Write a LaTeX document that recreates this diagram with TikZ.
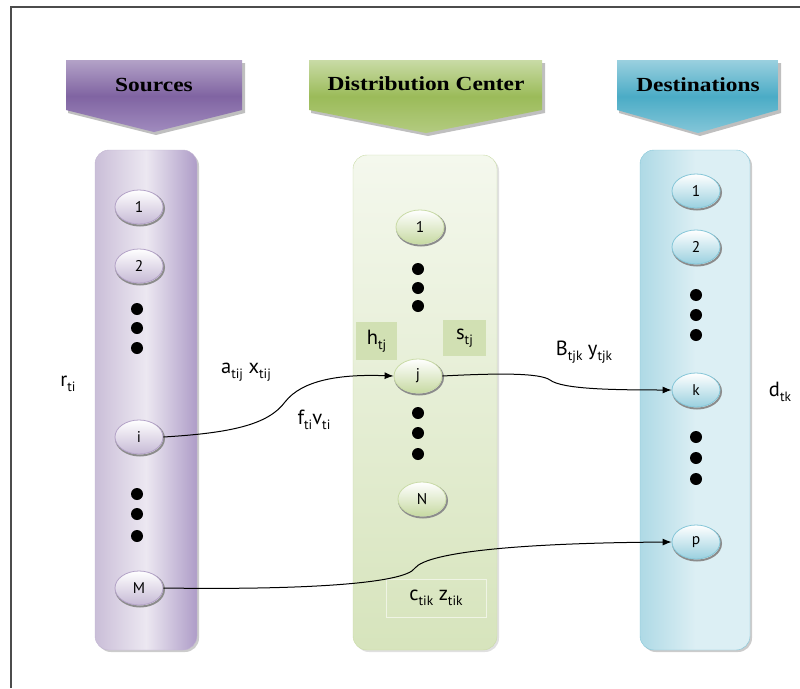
\documentclass[tikz,border=0pt]{standalone}
\usepackage{fontspec}
\setmainfont{Liberation Serif}
\newfontfamily\lblfont{PT Sans}
\usetikzlibrary{shapes.geometric,arrows.meta}
\newcommand\lsub[1]{\raisebox{-0.5ex}{\fontsize{13.5}{13.5}\selectfont #1}}
\definecolor{purpA}{HTML}{B3A2C7}
\definecolor{purpB}{HTML}{8064A2}
\definecolor{purpC}{HTML}{A08BBE}
\definecolor{grnA}{HTML}{C9DBA6}
\definecolor{grnB}{HTML}{9BBB59}
\definecolor{grnC}{HTML}{B3CB80}
\definecolor{bluA}{HTML}{9AD0DF}
\definecolor{bluB}{HTML}{4BACC6}
\definecolor{bluC}{HTML}{84C6D8}
\tikzset{
  headtxt/.style={font=\fontsize{20}{20}\selectfont\bfseries, xscale=1.17, inner sep=0pt},
  nshadow/.style={preaction={draw=black!45, line width=2pt, transform canvas={shift={(1pt,-1.5pt)}}}},
  pnode/.style={ellipse, minimum width=48pt, minimum height=34pt, inner sep=0pt, draw=purpA, line width=0.8pt, top color=white, bottom color=purpA!75, font=\lblfont\fontsize{15.5}{15.5}\selectfont, nshadow},
  gnode/.style={pnode, draw=grnA, bottom color=grnA!95!grnB},
  bnode/.style={pnode, draw=bluC, bottom color=bluA},
  bigdot/.style={circle, fill=black, minimum size=12pt, inner sep=0pt},
  lbl/.style={font=\lblfont\fontsize{20.5}{20.5}\selectfont, inner sep=1pt},
  arr/.style={-{Latex[length=9pt,width=7pt]}, line width=1pt, black}
}
\begin{document}
\begin{tikzpicture}[x=1pt,y=-1pt]
\useasboundingbox (0,0) rectangle (800,688);
\draw[line width=1.6pt, black!70] (11,688) -- (11,7) -- (800,7);

% headers
\fill[black!25] (68,63) -- (245,63) -- (245,113) -- (156,135) -- (68,113) -- cycle;
\shade[top color=purpA, bottom color=purpC, middle color=purpB] (66,60) -- (242,60) -- (242,110) -- (154,132) -- (66,110) -- cycle;
\node[headtxt] (hsrc) at (154,85) {Sources};
\fill[black!25] (311,63) -- (545,63) -- (545,113) -- (428,136) -- (311,113) -- cycle;
\shade[top color=grnA, bottom color=grnC, middle color=grnB] (309,60) -- (542,60) -- (542,110) -- (426,133) -- (309,110) -- cycle;
\node[headtxt] (hdc) at (426,84) {Distribution Center};
\fill[black!25] (619,63) -- (781,63) -- (781,113) -- (700,136) -- (619,113) -- cycle;
\shade[top color=bluA, bottom color=bluC, middle color=bluB] (617,60) -- (778,60) -- (778,110) -- (698,133) -- (617,110) -- cycle;
\node[headtxt] (hdst) at (698,85) {Destinations};

% columns
\fill[black!20, rounded corners=14pt] (97,152) rectangle (199,652);
\shade[left color=purpA!70!white, right color=purpC!85!white, middle color=purpA!25!white, rounded corners=14pt, draw=purpA!80] (95,150) rectangle (197,650);
\fill[black!12, rounded corners=14pt] (355,157) rectangle (499,652);
\shade[top color=grnA!20!white, bottom color=grnA!75!white, rounded corners=14pt, draw=grnA] (353,155) rectangle (497,650);
\fill[black!20, rounded corners=14pt] (642,152) rectangle (752,652);
\shade[left color=bluA!80!white, right color=bluA!35!white, middle color=bluA!35!white, rounded corners=14pt, draw=bluC] (640,150) rectangle (750,650);

% label boxes in DC
\node[fill=grnA!85, minimum width=41pt, minimum height=38pt, inner sep=0pt, lbl] (htj) at (376.5,341) {h\lsub{tj}};
\node[fill=grnA!85, minimum width=43pt, minimum height=36pt, inner sep=0pt, lbl] (stj) at (464.5,338) {s\lsub{tj}};
\node[draw=white!70!grnA, line width=1pt, minimum width=100pt, minimum height=38pt, inner sep=0pt, lbl] (ctik) at (436,598) {c\lsub{tik} z\lsub{tik}};

% source nodes
\node[pnode] (s1) at (139,207) {1};
\node[pnode] (s2) at (139,266) {2};
\node[bigdot] (sd1) at (137,309) {};
\node[bigdot] (sd2) at (137,328) {};
\node[bigdot] (sd3) at (137,348) {};
\node[pnode] (si) at (139,437) {i};
\node[bigdot] (sd4) at (137,494) {};
\node[bigdot] (sd5) at (137,514) {};
\node[bigdot] (sd6) at (137,536) {};
\node[pnode] (sM) at (139,588) {M};

% DC nodes
\node[gnode] (c1) at (420,227) {1};
\node[bigdot] (cd1) at (418,269) {};
\node[bigdot] (cd2) at (418,288) {};
\node[bigdot] (cd3) at (418,306) {};
\node[gnode] (cj) at (418,376) {j};
\node[bigdot] (cd4) at (418,413) {};
\node[bigdot] (cd5) at (418,433) {};
\node[bigdot] (cd6) at (418,454) {};
\node[gnode] (cN) at (422,499) {N};

% destination nodes
\node[bnode] (d1) at (696,191) {1};
\node[bnode] (d2) at (696,247) {2};
\node[bigdot] (dd1) at (696,295) {};
\node[bigdot] (dd2) at (696,315) {};
\node[bigdot] (dd3) at (696,335) {};
\node[bnode] (dk) at (696,390) {k};
\node[bigdot] (dd4) at (696,437) {};
\node[bigdot] (dd5) at (696,458) {};
\node[bigdot] (dd6) at (696,479) {};
\node[bnode] (dp) at (696,542) {p};

% labels
\node[lbl] (rti) at (68,384) {r\lsub{ti}};
\node[lbl] (ax) at (246,372) {a\lsub{tij} x\lsub{tij}};
\node[lbl] (fv) at (314,420) {f\lsub{ti}v\lsub{ti}};
\node[lbl] (By) at (584,352) {B\lsub{tjk} y\lsub{tjk}};
\node[lbl] (dtk) at (780,392) {d\lsub{tk}};

% connectors
\draw[arr] (si.east) .. controls (230,433) and (268,425) .. (285,402) .. controls (302,380) and (340,374) .. (cj.west);
\draw[arr] (cj.east) .. controls (500,373) and (540,373) .. (550,380) .. controls (562,389) and (610,390) .. (dk.west);
\draw[arr] (sM.east) .. controls (300,590) and (405,584) .. (415,568) .. controls (428,552) and (520,543) .. (dp.west);
\end{tikzpicture}
\end{document}
